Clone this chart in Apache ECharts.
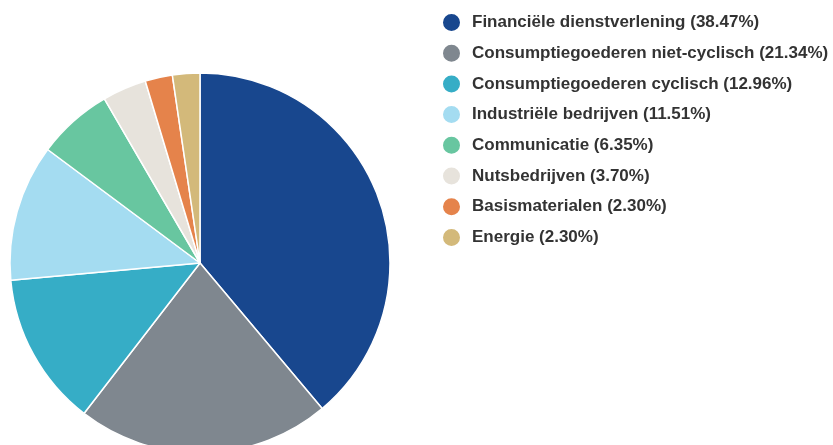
<!DOCTYPE html>
<html>
<head>
<meta charset="utf-8">
<script src="https://cdn.jsdelivr.net/npm/echarts@6/dist/echarts.min.js"></script>
<style>
html, body { margin: 0; padding: 0; background: #fff; }
#chart { width: 833px; height: 445px; }
</style>
</head>
<body>
<div id="chart"></div>
<script>
var sectors = ['Financiële dienstverlening', 'Consumptiegoederen niet-cyclisch', 'Consumptiegoederen cyclisch',
    'Industriële bedrijven', 'Communicatie', 'Nutsbedrijven', 'Basismaterialen', 'Energie'];
var weights = [38.47, 21.34, 12.96, 11.51, 6.35, 3.70, 2.30, 2.30];
var colors = ['#18478e', '#7f878f', '#36adc6', '#a4dcf1', '#68c6a0', '#e7e3dc', '#e5834b', '#d3b97a'];

var myChart = echarts.init(document.getElementById('chart'));

myChart.setOption({
    animation: false,
    color: colors,
    legend: {
        orient: 'vertical',
        left: 441,
        top: 12,
        padding: 0,
        icon: 'circle',
        itemWidth: 19,
        itemHeight: 19,
        itemGap: 9.7,
        data: sectors,
        formatter: function (name) {
            var i = sectors.indexOf(name);
            return name + ' (' + weights[i].toFixed(2) + '%)';
        },
        textStyle: {
            fontFamily: 'Liberation Sans, Arial, sans-serif',
            fontWeight: 'bold',
            fontSize: 17,
            color: '#333',
            padding: [0, 0, 0, 6]
        }
    },
    series: [
        {
            type: 'pie',
            center: [200, 263],
            radius: 190,
            startAngle: 90,
            clockwise: true,
            label: { show: false },
            labelLine: { show: false },
            itemStyle: { borderColor: '#fff', borderWidth: 1.5 },
            data: sectors.map(function (s, i) {
                return { name: s, value: weights[i] };
            })
        }
    ]
});
</script>
</body>
</html>
